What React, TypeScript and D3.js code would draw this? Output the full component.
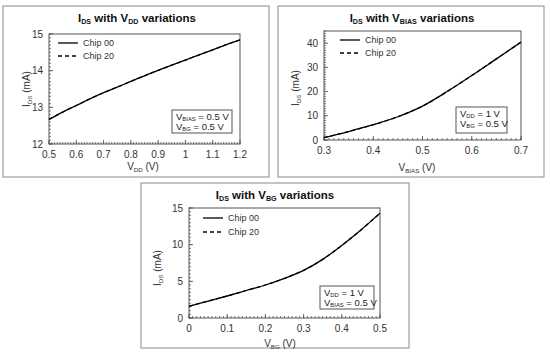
import React from 'react';
import * as d3 from 'd3';

// --- data ---
const vddX = [0.5, 0.55, 0.6, 0.65, 0.7, 0.75, 0.8, 0.85, 0.9, 0.95, 1.0, 1.05, 1.1, 1.15, 1.2];
const vddChip00 = [12.67, 12.87, 13.05, 13.23, 13.4, 13.55, 13.71, 13.86, 14.01, 14.15, 14.29, 14.43, 14.57, 14.71, 14.84];
const vddChip20 = [12.67, 12.87, 13.05, 13.23, 13.4, 13.55, 13.71, 13.86, 14.01, 14.15, 14.29, 14.43, 14.57, 14.71, 14.84];
const vddXTicks = [0.5, 0.6, 0.7, 0.8, 0.9, 1, 1.1, 1.2];
const vddYTicks = [12, 13, 14, 15];

const vbiasX = [0.3, 0.35, 0.4, 0.45, 0.5, 0.55, 0.6, 0.65, 0.7];
const vbiasChip00 = [1.0, 3.5, 6.3, 9.6, 14.0, 20.0, 26.6, 33.5, 40.4];
const vbiasChip20 = [1.0, 3.5, 6.3, 9.6, 14.0, 20.0, 26.6, 33.5, 40.4];
const vbiasXTicks = [0.3, 0.4, 0.5, 0.6, 0.7];
const vbiasYTicks = [0, 10, 20, 30, 40];

const vbgX = [0, 0.05, 0.1, 0.15, 0.2, 0.25, 0.3, 0.35, 0.4, 0.45, 0.5];
const vbgChip00 = [1.6, 2.3, 3.0, 3.75, 4.5, 5.4, 6.5, 8.0, 9.9, 12.0, 14.3];
const vbgChip20 = [1.6, 2.3, 3.0, 3.75, 4.5, 5.4, 6.5, 8.0, 9.9, 12.0, 14.3];
const vbgXTicks = [0, 0.1, 0.2, 0.3, 0.4, 0.5];
const vbgYTicks = [0, 5, 10, 15];

const legendNames = ['Chip 00', 'Chip 20'];

type Seg = [string, boolean];

const FONT = '"Liberation Sans", Arial, sans-serif';

// text with subscripts, segs = [text, isSub]
function Rich({ segs, size, ...rest }: any) {
  let shift = 0;
  return (
    <text fontFamily={FONT} fontSize={size} {...rest}>
      {segs.map(([t, sub]: Seg, i: number) => {
        const target = sub ? size * 0.15 : 0;
        const dy = target - shift;
        shift = target;
        return (
          <tspan key={i} dy={dy} fontSize={sub ? size * 0.62 : size}>
            {t}
          </tspan>
        );
      })}
    </text>
  );
}

function Panel(p: any) {
  const x = d3.scaleLinear().domain(p.xDomain).range([p.plot.left, p.plot.right]);
  const y = d3.scaleLinear().domain(p.yDomain).range([p.plot.bottom, p.plot.top]);
  const line = d3
    .line<[number, number]>()
    .x(d => x(d[0]))
    .y(d => y(d[1]))
    .curve(d3.curveMonotoneX);
  const s00 = p.xs.map((v: number, i: number) => [v, p.chip00[i]]);
  const s20 = p.xs.map((v: number, i: number) => [v, p.chip20[i]]);
  const xMinor = d3.range(p.xDomain[0], p.xDomain[1] + 1e-9, p.xMinor);
  const yMinor = d3.range(p.yDomain[0], p.yDomain[1] + 1e-9, p.yMinor);
  const { left, right, top, bottom } = p.plot;
  const ax = '#555';
  return (
    <g>
      <rect x={p.frame.x} y={p.frame.y} width={p.frame.w} height={p.frame.h} fill="#fff" stroke="#8a8a8a" strokeWidth={1} />
      <Rich segs={p.title} size={11.5} x={p.titleX} y={p.titleY} textAnchor="middle" fontWeight="bold" fill="#111" />
      <rect x={left} y={top} width={right - left} height={bottom - top} fill="none" stroke={ax} strokeWidth={1} />
      {xMinor.map((v, i) => (
        <line key={'xm' + i} x1={x(v)} x2={x(v)} y1={bottom} y2={bottom - 2} stroke={ax} strokeWidth={0.8} />
      ))}
      {yMinor.map((v, i) => (
        <line key={'ym' + i} x1={left} x2={left + 2} y1={y(v)} y2={y(v)} stroke={ax} strokeWidth={0.8} />
      ))}
      {p.xTicks.map((v: number, i: number) => (
        <g key={'xt' + i}>
          <line x1={x(v)} x2={x(v)} y1={bottom} y2={bottom - 4} stroke={ax} strokeWidth={0.9} />
          <text x={x(v)} y={p.xTickY} textAnchor="middle" fontFamily={FONT} fontSize={10} fill="#333">
            {String(v)}
          </text>
        </g>
      ))}
      {p.yTicks.map((v: number, i: number) => (
        <g key={'yt' + i}>
          <line x1={left} x2={left + 4} y1={y(v)} y2={y(v)} stroke={ax} strokeWidth={0.9} />
          <text x={left - 6} y={y(v) + 3.5} textAnchor="end" fontFamily={FONT} fontSize={10} fill="#333">
            {String(v)}
          </text>
        </g>
      ))}
      <Rich segs={p.xLabel} size={10} x={p.xLabelX} y={p.xLabelY} textAnchor="middle" fill="#333" />
      <Rich
        segs={p.yLabel}
        size={10}
        x={0}
        y={0}
        textAnchor="middle"
        fill="#333"
        transform={`translate(${p.yLabelX},${p.yLabelY}) rotate(-90)`}
      />
      <path d={line(s20) || ''} fill="none" stroke="#000" strokeWidth={1.3} strokeDasharray="4,3" />
      <path d={line(s00) || ''} fill="none" stroke="#000" strokeWidth={1.3} />
      {legendNames.map((name, i) => {
        const ly = p.legend.y + i * p.legend.gap;
        return (
          <g key={name}>
            <line
              x1={p.legend.x}
              x2={p.legend.x + 20}
              y1={ly}
              y2={ly}
              stroke="#000"
              strokeWidth={1.3}
              strokeDasharray={i === 1 ? '4,3' : undefined}
            />
            <text x={p.legend.x + 25} y={ly + 3} fontFamily={FONT} fontSize={9} fill="#333">
              {name}
            </text>
          </g>
        );
      })}
      <rect x={p.box.x} y={p.box.y} width={p.box.w} height={p.box.h} fill="#fff" stroke={ax} strokeWidth={1} />
      {p.box.lines.map((segs: Seg[], i: number) => (
        <Rich key={i} segs={segs} size={9.5} x={p.box.x + 4} y={p.box.y + 10 + i * 10} fill="#222" />
      ))}
    </g>
  );
}

export default function App() {
  return (
    <svg width={550} height={356} style={{ position: 'absolute', left: 0, top: 0, background: '#fff' }}>
      <Panel
        frame={{ x: 3, y: 6, w: 266, h: 171 }}
        plot={{ left: 49, right: 240, top: 34, bottom: 144 }}
        xDomain={[0.5, 1.2]}
        yDomain={[12, 15]}
        xMinor={0.01}
        yMinor={0.1}
        xs={vddX}
        chip00={vddChip00}
        chip20={vddChip20}
        xTicks={vddXTicks}
        yTicks={vddYTicks}
        xTickY={158}
        title={[['I', false], ['DS', true], [' with V', false], ['DD', true], [' variations', false]]}
        titleX={137}
        titleY={22}
        xLabel={[['V', false], ['DD', true], [' (V)', false]]}
        xLabelX={143}
        xLabelY={170}
        yLabel={[['I', false], ['DS', true], [' (mA)', false]]}
        yLabelX={30}
        yLabelY={89}
        legend={{ x: 58, y: 43, gap: 13 }}
        box={{
          x: 172,
          y: 110,
          w: 60,
          h: 23,
          lines: [
            [['V', false], ['BIAS', true], [' = 0.5 V', false]],
            [['V', false], ['BG', true], [' = 0.5 V', false]],
          ],
        }}
      />
      <Panel
        frame={{ x: 278, y: 6, w: 266, h: 171 }}
        plot={{ left: 324, right: 521, top: 31, bottom: 140 }}
        xDomain={[0.3, 0.7]}
        yDomain={[0, 45]}
        xMinor={0.01}
        yMinor={1}
        xs={vbiasX}
        chip00={vbiasChip00}
        chip20={vbiasChip20}
        xTicks={vbiasXTicks}
        yTicks={vbiasYTicks}
        xTickY={154}
        title={[['I', false], ['DS', true], [' with V', false], ['BIAS', true], [' variations', false]]}
        titleX={412}
        titleY={22}
        xLabel={[['V', false], ['BIAS', true], [' (V)', false]]}
        xLabelX={417}
        xLabelY={171}
        yLabel={[['I', false], ['DS', true], [' (mA)', false]]}
        yLabelX={299}
        yLabelY={88}
        legend={{ x: 340, y: 40, gap: 13 }}
        box={{
          x: 456,
          y: 107,
          w: 51,
          h: 26,
          lines: [
            [['V', false], ['DD', true], [' = 1 V', false]],
            [['V', false], ['BG', true], [' = 0.5 V', false]],
          ],
        }}
      />
      <Panel
        frame={{ x: 141, y: 183, w: 268, h: 165 }}
        plot={{ left: 189, right: 380, top: 208, bottom: 318 }}
        xDomain={[0, 0.5]}
        yDomain={[0, 15]}
        xMinor={0.01}
        yMinor={0.5}
        xs={vbgX}
        chip00={vbgChip00}
        chip20={vbgChip20}
        xTicks={vbgXTicks}
        yTicks={vbgYTicks}
        xTickY={332}
        title={[['I', false], ['DS', true], [' with V', false], ['BG', true], [' variations', false]]}
        titleX={275}
        titleY={199}
        xLabel={[['V', false], ['BG', true], [' (V)', false]]}
        xLabelX={280}
        xLabelY={347}
        yLabel={[['I', false], ['DS', true], [' (mA)', false]]}
        yLabelX={161}
        yLabelY={268}
        legend={{ x: 203, y: 218, gap: 14 }}
        box={{
          x: 320,
          y: 286,
          w: 54,
          h: 23,
          lines: [
            [['V', false], ['DD', true], [' = 1 V', false]],
            [['V', false], ['BIAS', true], [' = 0.5 V', false]],
          ],
        }}
      />
    </svg>
  );
}
